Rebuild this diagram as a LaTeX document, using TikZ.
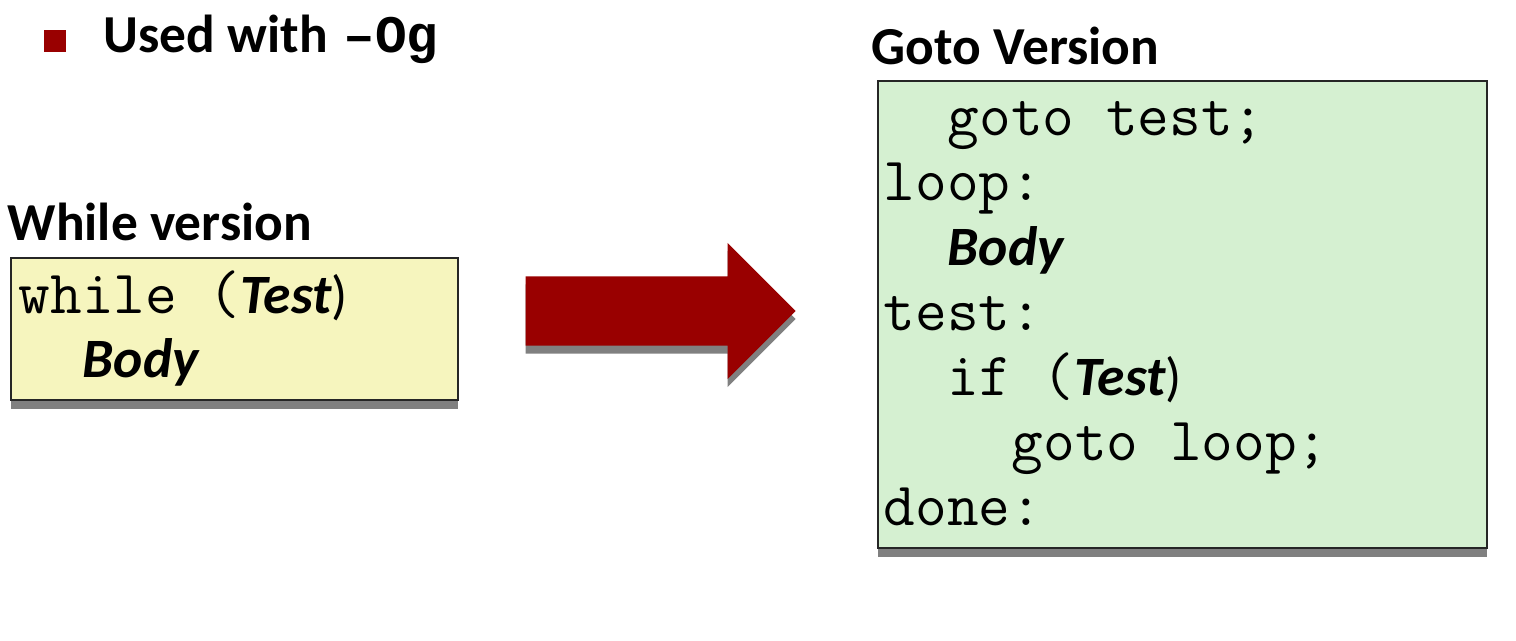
\documentclass[tikz,border=0pt]{standalone}
\usepackage{fontspec}
\setmainfont{Carlito}
\newfontfamily\optfont{Liberation Mono}
\usetikzlibrary{calc,positioning,shapes.arrows,shadows}
\definecolor{dred}{HTML}{990000}
\definecolor{pyellow}{HTML}{F6F5BE}
\definecolor{pgreen}{HTML}{D5F0D1}
\newcommand{\cd}[1]{{\ttfamily\fontsize{17.5pt}{18pt}\selectfont #1}}
\newcommand{\cslot}[1]{{\fontsize{15.8pt}{18pt}\selectfont\bfseries\itshape #1}}
\tikzset{
  codebox/.style={draw=black!85,line width=0.6pt,inner sep=0pt,anchor=north west,
                  drop shadow={shadow xshift=0cm,shadow yshift=-0.09cm,fill=black!50,opacity=1}},
  head/.style={font=\bfseries\fontsize{15.2pt}{18pt}\selectfont,inner sep=0pt,anchor=base west},
  codetxt/.style={font=\fontsize{15.2pt}{18pt}\selectfont,inner sep=0pt,anchor=base west},
  bigarrow/.style={single arrow,fill=dred,minimum height=2.70cm,minimum width=1.35cm,
                   single arrow head extend=0.335cm,inner xsep=0pt,inner ysep=0.34cm,anchor=tail,
                   drop shadow={shadow xshift=0cm,shadow yshift=-0.08cm,fill=black!50,opacity=1}},
}
\begin{document}
\begin{tikzpicture}
\useasboundingbox (0,0) rectangle (15.16,6.40);
% bullet line
\node[fill=dred,minimum size=0.22cm,inner sep=0pt] (bul) at (0.545,5.99) {};
\node[head] (used) at (1.03,5.88) {Used with\hspace{0.04cm} {\optfont\fontsize{15pt}{18pt}\selectfont –Og}};

% while version
\node[codebox,fill=pyellow,minimum width=4.47cm,minimum height=1.42cm] (whilebox) at (0.10,3.83) {};
\node[head] (whilehd) at ($(whilebox.north west)+(-0.03,0.17)$) {While version};
\node[codetxt] (wl0) at ($(whilebox.north west)+(0.08,-0.56)$) {\cd{while (}\cslot{Test})};
\node[codetxt] (wl1) at ($(whilebox.north west)+(0.72,-1.20)$) {\cslot{Body}};

% transformation arrow
\node[bigarrow] (conv) at (5.25,3.29) {};

% goto version
\node[codebox,fill=pgreen,minimum width=6.09cm,minimum height=4.67cm] (gotobox) at (8.77,5.60) {};
\node[head] (gotohd) at ($(gotobox.north west)+(-0.06,0.16)$) {Goto Version};
\foreach \k/\ind/\txt in {0/2/{\cd{goto test;}},1/0/{\cd{loop:}},2/2/{\cslot{Body}},3/0/{\cd{test:}},
                          4/2/{\cd{if (}\cslot{Test})},5/4/{\cd{goto loop;}},6/0/{\cd{done:}}}
  \node[codetxt] (gl\k) at ($(gotobox.north west)+(0.06+0.32*\ind,-0.55-0.65*\k)$) {\txt};
\end{tikzpicture}
\end{document}
